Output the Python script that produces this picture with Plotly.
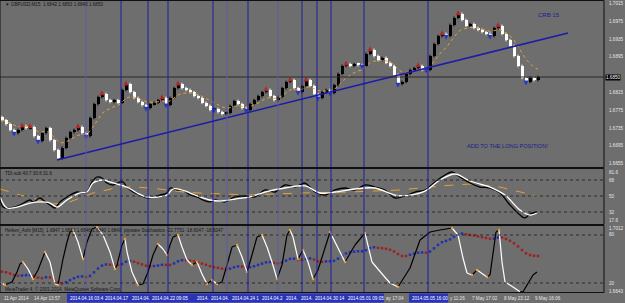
import plotly.graph_objects as go

W, H = 625, 303
BG = "#6e6e6e"
FONT = "Liberation Sans"

# ---------------- data ----------------
closes = [1.6753,1.6744,1.6731,1.6724,1.6731,1.6740,1.6735,1.6738,1.6717,1.6706,
          1.6724,1.6735,1.6708,1.6686,1.6668,1.6691,1.6713,1.6726,1.6731,1.6738,
          1.6724,1.6717,1.6758,1.6789,1.6805,1.6812,1.6798,1.6794,1.6798,1.6792,
          1.6821,1.6834,1.6816,1.6803,1.6794,1.6787,1.6780,1.6789,1.6792,1.6798,
          1.6803,1.6787,1.6803,1.6825,1.6834,1.6825,1.6821,1.6816,1.6807,1.6803,
          1.6792,1.6785,1.6776,1.6778,1.6771,1.6767,1.6769,1.6785,1.6796,1.6789,
          1.6780,1.6776,1.6789,1.6798,1.6807,1.6816,1.6821,1.6807,1.6798,1.6805,
          1.6825,1.6839,1.6843,1.6825,1.6816,1.6830,1.6843,1.6830,1.6812,1.6803,
          1.6816,1.6821,1.6814,1.6832,1.6857,1.6875,1.6879,1.6875,1.6879,1.6877,
          1.6875,1.6902,1.6911,1.6897,1.6888,1.6893,1.6882,1.6875,1.6855,1.6834,
          1.6839,1.6857,1.6866,1.6870,1.6875,1.6866,1.6866,1.6897,1.6924,1.6942,
          1.6947,1.6942,1.6967,1.6983,1.6992,1.6978,1.6965,1.6969,1.6960,1.6956,
          1.6951,1.6947,1.6942,1.6960,1.6965,1.6947,1.6933,1.6920,1.6897,1.6875,
          1.6848,1.6839,1.6848,1.6843,1.6850]
first_open = 1.6760
up_fractals = [5, 7, 19, 25, 31, 40, 44, 66, 72, 76, 86, 92, 104, 110, 114, 124]
down_fractals = [3, 9, 21, 36, 41, 53, 61, 74, 79, 82, 90, 99, 106, 111, 122, 131]

vline_bars = [21, 29.75, 36.5, 41.5, 52.75, 56.25, 61.5, 69, 75, 78.75, 82.25, 90.5, 106.5]
vline_light = [1, 0, 0, 0, 0, 1, 0, 1, 0, 0, 0, 0, 0]
# vertical-line date labels as visible on the time axis (each one cut off by the next)
vline_labels = ["2014.04.16 03:4", "2014.04.17", "2014.04.", "2014.04.22 09:05",
                "2014.", "2014.04.", "2014.04.24 1", "2014.04.2",
                "2014.", "2014.", "2014.04.30 14", "2014.05.01 09:05",
                "2014.05.05 16:00"]
time_labels = ["11 Apr 2014", "14 Apr 13:57", "ay 17:04", "y 11:26", "7 May 17:02",
               "8 May 23:12", "9 May 16:06"]
time_label_px = [2, 32, 384, 448, 470, 502, 533]

trend_bars = [13.75, 141.5]
trend_prices = [1.66636, 1.69489]
price_ticks = [1.7015, 1.6975, 1.6935, 1.6895, 1.6815, 1.6775, 1.6735, 1.6695, 1.6655]
last_price = 1.6850

tdi_black_x = [-0.5,0.25,2,4.5,7,7.75,9.5,10.25,12,13.25,14.5,16.25,18.75,20.25,21.25,22.5,23.75,25,26.25,
               27.75,29.5,30.25,31.25,32.75,34.5,36.25,37.75,39.5,41.25,42,43.75,45.25,47,48.75,50.25,52,
               53.25,55.75,58.25,60.75,63.25,65.75,68.25,70.75,73.25,75.75,78.25,80.75,83.25,85.75,88.25,
               90.75,93.25,95.75,98.25,100.75,103.25,105.75,108.25,110.75,112.5,114.5,117,119.5,122,124.5,
               127,129.5,130.75,132,133.75]
tdi_black = [48.9,37.6,36.5,39.9,45.5,43.3,47.8,45.5,39.9,36.5,43.3,48.9,54.5,53.4,54.5,65.8,71.4,70.3,64.6,
             62.4,65.8,65.8,60.1,54.5,51.1,47.8,48.9,51.1,53.4,59.0,56.8,56.8,51.1,48.9,45.5,43.3,
             45.5,43.3,48.9,50.0,48.9,56.8,54.5,62.4,60.1,64.6,54.5,51.1,56.8,59.0,56.8,
             62.4,60.1,56.8,47.8,50.0,54.5,56.8,65.8,73.6,77.0,71.4,64.6,60.1,59.0,53.4,
             39.9,28.6,25.3,29.8,32.0]
tdi_white_x = [-0.5,1.25,3.75,7,9.5,12,13.75,16.25,19.5,21.25,22.75,25.25,27,29.5,31.25,33.75,36.25,38.75,
               41.25,42.75,45,47,49.5,52,54.5,58.25,62,65.75,70.75,75.75,79.5,83.25,88.25,93.25,98.25,
               102,105.75,109.5,113.25,117,122,125.75,129.5,132,133.75]
tdi_white = [48.9,36.5,37.6,42.1,43.3,42.1,37.6,45.5,53.4,54.5,64.6,68.0,65.8,62.4,60.1,53.4,48.9,48.9,
             51.1,57.9,56.8,53.4,48.9,45.5,44.4,46.6,48.9,54.5,59.0,61.3,53.4,54.5,57.9,59.0,51.1,
             51.1,55.6,68.0,74.8,66.9,60.1,51.1,34.3,28.6,30.9]
tdi_base_x = [-0.5,2,4.5,7.75,10.25,12.75,16.25,19.5,22.75,26.25,29.5,32.75,37,41.25,45.25,49.5,62,74.5,
              87,99.5,109.5,117,124.5,133.75]
tdi_base = [57.9,54.5,51.1,47.8,43.3,41.0,42.1,47.8,53.4,56.8,60.1,60.1,59.0,56.8,54.5,53.4,51.1,53.4,
            54.5,56.8,61.3,63.5,60.1,50.0]
tdi_levels = [68, 50, 32]
tdi_top, tdi_bottom = "81.6", "17.6"

stoch_x = [-0.5,0.75,2.5,3.75,4.5,5.25,6.5,7.75,9,10.75,12,13.25,14,15.25,16.25,17,17.75,19,20.25,21.25,
           22.5,23.75,25.25,27,28.25,28.75,30,30.75,31.25,32.5,34,35.25,36.5,37.75,39,40.25,41.25,42,
           42.75,44,45,46.25,47.5,48.75,50,51.25,52.5,53.75,55,56.25,57.5,58.75,60,61.25,62.5,63.75,65,
           66.25,67.5,68.75,70,71.25,72,72.75,74,75.25,76.5,77.75,79,82,85.75,88.25,90.75,92.5,95.25,97,
           99,102,104.5,107,109.5,112.5,114,115.25,116.25,117.5,118.75,121.25,122,123.5,124.25,125,125.75,
           127.75,129.5,130.25,132.75,133.75]
stoch = [21.25,17.5,21.25,33.75,43.75,46.25,37.5,25,36.25,58.75,46.25,18.75,17.5,50,71.25,83.75,86.25,71.25,
         50,71.25,87.5,90,80,58.75,37.5,42.5,67.5,75,58.75,33.75,17.5,18.75,33.75,55,68.75,62.5,55,67.5,
         77.5,80,65,48.75,42.5,46.25,31.25,18.75,23.75,18.75,21.25,42.5,65,67.5,52.5,33.75,55,77.5,80,
         65,46.25,25,42.5,80,86.25,77.5,50,61.25,46.25,25,36.25,83.75,46.25,67.5,82.5,46.25,30,20,
         15,38.75,73.75,83.75,86.25,88.75,80,51.25,32.5,30,36.25,27.5,30,83.75,86.25,46.25,21.25,
         15,9,9,30,33.75]
stoch_levels = [80, 20]
ha_top, ha_bottom = "1.7012", "1.6643"

title_main = "GBPUSD,M15  1.6842 1.6853 1.6840 1.6850"
title_tdi = "TDI-sub 40.7 30.6 31.6"
title_ha = "Heiken_Ashi [M15]  1.6847 1.6853 1.6846 1.6840 1.6840  pipware Stochastics -22.7751 -18.6047 -18.6047"
copyright = "MetaTrader 4, © 2001-2014, MetaQuotes Software Corp."

# ---------------- derived OHLC ----------------
n = len(closes)
bars = list(range(n))
opens = [first_open] + closes[:-1]
WICK = 0.0003
highs = [max(o, c) + WICK for o, c in zip(opens, closes)]
lows = [min(o, c) - WICK for o, c in zip(opens, closes)]

ema = []
k = 2 / (8 + 1)
for i, c in enumerate(closes):
    ema.append(c if i == 0 else ema[-1] + k * (c - ema[-1]))

ha_c = [(o + h + l + c) / 4 for o, h, l, c in zip(opens, highs, lows, closes)]
ha_o = []
for i in range(n):
    ha_o.append((opens[0] + closes[0]) / 2 if i == 0 else (ha_o[-1] + ha_c[i - 1]) / 2)

# ---------------- geometry ----------------
PX_R = 604
def yp(px):
    return 1 - px / H
def xp(px):
    return px / W

X_RANGE = [-0.5, 150.5]
MAIN = (1, 167)
TDI = (169, 224)
LOW = (226, 292)

def xpix_bar(b):
    return (b - X_RANGE[0]) / (X_RANGE[1] - X_RANGE[0]) * PX_R

fig = go.Figure()

bull = [i for i in bars if closes[i] >= opens[i]]
bear = [i for i in bars if closes[i] < opens[i]]
for idxs, col in ((bull, "#000000"), (bear, "#ffffff")):
    wx, wy = [], []
    for i in idxs:
        wx += [i, i, None]
        wy += [lows[i], highs[i], None]
    fig.add_trace(go.Scatter(x=wx, y=wy, mode="lines", line=dict(color=col, width=1),
                             hoverinfo="skip", showlegend=False, xaxis="x", yaxis="y"))
    fig.add_trace(go.Bar(x=idxs, y=[abs(closes[i] - opens[i]) + 0.00005 for i in idxs],
                         base=[min(closes[i], opens[i]) for i in idxs], width=0.75,
                         marker=dict(color=col, line=dict(width=0)), showlegend=False,
                         xaxis="x", yaxis="y"))

fig.add_trace(go.Scatter(x=bars, y=ema, mode="lines", line=dict(color="#e8a030", width=1, dash="dot"),
                         showlegend=False, xaxis="x", yaxis="y"))
fig.add_trace(go.Scatter(x=trend_bars, y=trend_prices, mode="lines", line=dict(color="#1c1ca8", width=1.6),
                         showlegend=False, xaxis="x", yaxis="y"))
fig.add_trace(go.Scatter(x=up_fractals, y=[highs[i] + 0.0005 for i in up_fractals], mode="markers",
                         marker=dict(symbol="arrow-up", size=5, color="#b02828"), showlegend=False,
                         xaxis="x", yaxis="y"))
fig.add_trace(go.Scatter(x=down_fractals, y=[lows[i] - 0.0005 for i in down_fractals], mode="markers",
                         marker=dict(symbol="arrow-down", size=5, color="#2838c0"), showlegend=False,
                         xaxis="x", yaxis="y"))

# TDI
fig.add_trace(go.Scatter(x=tdi_base_x, y=tdi_base, mode="lines", line=dict(color="#e8a030", width=1, dash="dash"),
                         showlegend=False, xaxis="x", yaxis="y2"))
fig.add_trace(go.Scatter(x=tdi_black_x, y=tdi_black, mode="lines", line=dict(color="#000000", width=1.3, shape="spline"),
                         showlegend=False, xaxis="x", yaxis="y2"))
fig.add_trace(go.Scatter(x=tdi_white_x, y=tdi_white, mode="lines", line=dict(color="#ffffff", width=1.3, shape="spline"),
                         showlegend=False, xaxis="x", yaxis="y2"))

# Heiken Ashi line in lower panel
ha_mid = [(a + b) / 2 for a, b in zip(ha_o, ha_c)]
ha_cols = ["#2030b0" if c >= o else "#a02020" for o, c in zip(ha_o, ha_c)]
fig.add_trace(go.Scatter(x=bars, y=ha_mid, mode="markers",
                         marker=dict(symbol="square", size=2.5, color=ha_cols, line=dict(width=0)),
                         showlegend=False, xaxis="x", yaxis="y3"))

# stochastic: rising black, falling white
rx, ry, fx, fy, ox, oy = [], [], [], [], [], []
for j in range(len(stoch) - 1):
    if stoch[j + 1] >= stoch[j]:
        rx += [stoch_x[j], stoch_x[j + 1], None]; ry += [stoch[j], stoch[j + 1], None]
    else:
        fx += [stoch_x[j], stoch_x[j + 1], None]; fy += [stoch[j], stoch[j + 1], None]
for j in range(1, len(stoch) - 1):
    if (stoch[j] - stoch[j - 1]) * (stoch[j + 1] - stoch[j]) < 0:
        ox.append(stoch_x[j]); oy.append(stoch[j])
fig.add_trace(go.Scatter(x=rx, y=ry, mode="lines", line=dict(color="#000000", width=1.2),
                         showlegend=False, xaxis="x", yaxis="y4"))
fig.add_trace(go.Scatter(x=fx, y=fy, mode="lines", line=dict(color="#ffffff", width=1.2),
                         showlegend=False, xaxis="x", yaxis="y4"))
fig.add_trace(go.Scatter(x=ox, y=oy, mode="markers", marker=dict(color="#e8a030", size=2.5),
                         showlegend=False, xaxis="x", yaxis="y4"))

# ---------------- shapes ----------------
shapes = []
shapes.append(dict(type="line", xref="paper", yref="y", x0=0, x1=PX_R / W, y0=last_price, y1=last_price,
                   line=dict(color="#2a2a2a", width=1)))
for lv in tdi_levels:
    shapes.append(dict(type="line", xref="paper", yref="y2", x0=0, x1=PX_R / W, y0=lv, y1=lv,
                       line=dict(color="#2a2a2a", width=1, dash="dot")))
for lv in stoch_levels:
    shapes.append(dict(type="line", xref="paper", yref="y4", x0=0, x1=PX_R / W, y0=lv, y1=lv,
                       line=dict(color="#2a2a2a", width=1, dash="dot")))
for b, light in zip(vline_bars, vline_light):
    shapes.append(dict(type="line", xref="x", yref="paper", x0=b, x1=b, y0=yp(293), y1=yp(0),
                       line=dict(color="#5c5ca8" if light else "#1c1ca0", width=1)))
for top, bot in (MAIN, TDI, LOW):
    shapes.append(dict(type="rect", xref="paper", yref="paper", x0=0, x1=PX_R / W,
                       y0=yp(bot + 0.5), y1=yp(top - 0.5), line=dict(color="#111111", width=1)))
# blue label strips on time axis
label_starts = [xpix_bar(b) - 19 for b in vline_bars]
for x0, x1 in ((label_starts[0], 384), (label_starts[-1], label_starts[-1] + 39)):
    shapes.append(dict(type="rect", xref="paper", yref="paper", x0=xp(x0), x1=xp(x1),
                       y0=yp(302.5), y1=yp(293.5), fillcolor="#2a34b8", line=dict(width=0), layer="below"))

# ---------------- annotations ----------------
ann = []
def txt(x, y, s, color="#161616", size=4.6, anchor="left", bg=None, **kw):
    d = dict(x=xp(x), y=yp(y), xref="paper", yref="paper", text=s, showarrow=False,
             xanchor=anchor, yanchor="middle", font=dict(family=FONT, size=size, color=color))
    if bg:
        d.update(bgcolor=bg, borderpad=0)
    d.update(kw)
    ann.append(d)

def ypix_price(p):
    lo, hi = 1.66478, 1.70208
    return MAIN[1] - (p - lo) / (hi - lo) * (MAIN[1] - MAIN[0])

txt(3, 5, "▼ " + title_main, size=4.6)
txt(3, 173, title_tdi)
txt(3, 230, title_ha)
txt(3, 289, copyright)
txt(536, 15, "CRB 15", color="#1c1c90", size=6)
txt(465, 146, "ADD TO THE LONG POSITION!", color="#1c1c90", size=5.6)

for p in price_ticks:
    txt(607, ypix_price(p), f"{p:.4f}", color="#e6e6e6")
txt(605, ypix_price(last_price), f"{last_price:.4f}", color="#ffffff", bg="#000000")

def ypix_tdi(v):
    return TDI[1] - (v - 18.5) / (80.4 - 18.5) * (TDI[1] - TDI[0])
txt(607, 172, tdi_top, color="#e6e6e6")
for lv in tdi_levels:
    txt(607, ypix_tdi(lv), str(lv), color="#e6e6e6")
txt(607, 221, tdi_bottom, color="#e6e6e6")

def ypix_st(v):
    return LOW[1] - (v - 8.75) / (91.25 - 8.75) * (LOW[1] - LOW[0])
txt(607, 228, ha_top, color="#e6e6e6")
for lv in stoch_levels:
    txt(607, ypix_st(lv), str(lv), color="#e6e6e6")
txt(607, 291, ha_bottom, color="#e6e6e6")

for s, x in zip(time_labels, time_label_px):
    txt(x, 298, s, color="#e6e6e6")
for s, x in zip(vline_labels, label_starts):
    txt(x + 0.5, 298, s, color="#ffffff")

# ---------------- layout ----------------
axis_off = dict(showgrid=False, zeroline=False, showticklabels=False, ticks="", showline=False)
fig.update_layout(
    width=W, height=H, margin=dict(l=0, r=0, t=0, b=0),
    paper_bgcolor=BG, plot_bgcolor=BG, barmode="overlay", bargap=0,
    xaxis=dict(domain=[0, PX_R / W], range=X_RANGE, anchor="y3", **axis_off),
    yaxis=dict(domain=[yp(MAIN[1]), yp(MAIN[0])], range=[1.66478, 1.70208], **axis_off),
    yaxis2=dict(domain=[yp(TDI[1]), yp(TDI[0])], range=[18.5, 80.4], **axis_off),
    yaxis3=dict(domain=[yp(LOW[1]), yp(LOW[0])], range=[1.66371, 1.70237], **axis_off),
    yaxis4=dict(domain=[yp(LOW[1]), yp(LOW[0])], range=[8.75, 91.25], overlaying="y3", **axis_off),
    shapes=shapes, annotations=ann, showlegend=False, hovermode=False,
)

fig.write_html("out.html")
